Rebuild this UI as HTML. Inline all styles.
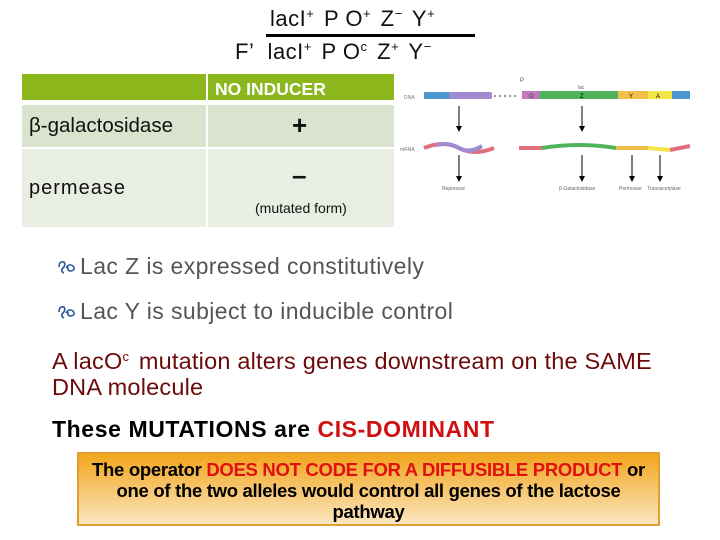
<!DOCTYPE html>
<html><head><meta charset="utf-8"><style>
body{margin:0;width:720px;height:540px;background:#fff;position:relative;overflow:hidden;font-family:"Liberation Sans",sans-serif}
.a{position:absolute;white-space:nowrap}
sup{font-size:13px;vertical-align:8px;margin-right:3px}
.g{color:#555;font-size:23px;letter-spacing:0.4px}
.bul{display:inline-block;width:26px;height:16px;vertical-align:-1px}
</style></head><body>
<div class="a" style="left:270px;top:6px;font-size:22px;color:#111;letter-spacing:0.5px">lacI<sup>+</sup> P O<sup>+</sup> Z<sup>−</sup> Y<sup>+</sup></div>
<div style="position:absolute;left:266px;top:34px;width:209px;height:3px;background:#000"></div>
<div class="a" style="left:235px;top:39px;font-size:22px;color:#111;letter-spacing:0.5px">F’&nbsp; lacI<sup>+</sup> P O<sup>c</sup> Z<sup>+</sup> Y<sup>−</sup></div>

<div style="position:absolute;left:22px;top:74px;width:184px;height:26px;background:#8bb71c"></div>
<div style="position:absolute;left:208px;top:74px;width:186px;height:26px;background:#8bb71c"></div>
<div class="a" style="left:215px;top:79px;font-size:17.5px;font-weight:bold;color:#fff">NO INDUCER</div>
<div style="position:absolute;left:22px;top:105px;width:184px;height:42px;background:#d9e3cd"></div>
<div style="position:absolute;left:208px;top:105px;width:186px;height:42px;background:#d9e3cd"></div>
<div style="position:absolute;left:22px;top:149px;width:184px;height:78px;background:#e9eee3"></div>
<div style="position:absolute;left:208px;top:149px;width:186px;height:78px;background:#e9eee3"></div>
<div class="a" style="left:29px;top:114px;font-size:20.5px;color:#111">β-galactosidase</div>
<div class="a" style="left:292px;top:110px;font-size:26px;font-weight:bold;color:#111">+</div>
<div class="a" style="left:29px;top:177px;font-size:20px;color:#111;letter-spacing:1px">permease</div>
<div class="a" style="left:292px;top:160px;font-size:26px;font-weight:bold;color:#111">–</div>
<div class="a" style="left:255px;top:200px;font-size:14px;color:#111">(mutated form)</div>

<svg style="position:absolute;left:394px;top:70px" width="300" height="130">
<text x="10" y="29" font-size="5" fill="#777" font-family="Liberation Sans">DNA</text>
<rect x="30" y="22" width="68" height="7" rx="2" fill="#a08bd0"/><rect x="30" y="22" width="25" height="7" fill="#4a9ad0"/>
<line x1="100" y1="26" x2="125" y2="26" stroke="#333" stroke-dasharray="2,3"/>
<rect x="128" y="21" width="18" height="8" fill="#c07ac0"/><rect x="146" y="21" width="78" height="8" fill="#4fb35a"/>
<rect x="224" y="21" width="30" height="8" fill="#f2c04a"/><rect x="254" y="21" width="24" height="8" fill="#f3e64a"/><rect x="278" y="21" width="18" height="8" fill="#4a9ad0"/>
<text x="126" y="12" font-size="6" fill="#555">P</text><text x="135" y="28" font-size="6" fill="#333">O</text><text x="184" y="19" font-size="5" fill="#555">lac</text><text x="186" y="28" font-size="6">Z</text><text x="235" y="28" font-size="6">Y</text><text x="262" y="28" font-size="6">A</text>
<g stroke="#000" stroke-width="1"><line x1="65" y1="36" x2="65" y2="58"/><line x1="188" y1="36" x2="188" y2="58"/><line x1="65" y1="85" x2="65" y2="108"/><line x1="188" y1="85" x2="188" y2="108"/><line x1="238" y1="85" x2="238" y2="108"/><line x1="266" y1="85" x2="266" y2="108"/></g>
<g fill="#000"><path d="M62 56 L68 56 L65 62z"/><path d="M185 56 L191 56 L188 62z"/><path d="M62 106 L68 106 L65 112z"/><path d="M185 106 L191 106 L188 112z"/><path d="M235 106 L241 106 L238 112z"/><path d="M263 106 L269 106 L266 112z"/></g>
<text x="6" y="81" font-size="5" fill="#777">mRNA</text>
<path d="M30 78 Q50 70 65 78 T100 78" stroke="#e07080" stroke-width="4" fill="none"/>
<path d="M42 75 Q55 72 65 78 T88 76" stroke="#a08bd0" stroke-width="4" fill="none"/>
<path d="M125 78 L148 78" stroke="#e07080" stroke-width="4"/><path d="M148 78 Q185 72 222 78" stroke="#4fb35a" stroke-width="4" fill="none"/>
<path d="M222 78 L254 78" stroke="#f2c04a" stroke-width="4"/><path d="M254 78 L276 80" stroke="#f3e64a" stroke-width="4"/><path d="M276 80 L296 76" stroke="#e07080" stroke-width="4"/>
<g font-size="5" fill="#666"><text x="48" y="120">Repressor</text><text x="165" y="120">β-Galactosidase</text><text x="225" y="120">Permease</text><text x="253" y="120">Transacetylase</text></g>
</svg>

<div class="a g" style="left:54px;top:253px"><svg class="bul" viewBox="0 0 22 16"><path d="M3 8 Q3 2 8 3 Q10 6 7 9 Q4 12 8 14 M10 9 Q13 4 17 7 Q20 11 15 12 Q11 12 12 8" stroke="#2a5a9a" stroke-width="1.6" fill="none"/></svg>Lac Z is expressed constitutively</div>
<div class="a g" style="left:54px;top:298px"><svg class="bul" viewBox="0 0 22 16"><path d="M3 8 Q3 2 8 3 Q10 6 7 9 Q4 12 8 14 M10 9 Q13 4 17 7 Q20 11 15 12 Q11 12 12 8" stroke="#2a5a9a" stroke-width="1.6" fill="none"/></svg>Lac Y is subject to inducible control</div>
<div class="a" style="left:52px;top:344px;font-size:23.5px;color:#6b0a0a;line-height:26px;letter-spacing:0.2px">A lacO<sup>c</sup> mutation alters genes downstream on the SAME<br>DNA molecule</div>
<div class="a" style="left:52px;top:416px;font-size:23px;font-weight:bold;color:#000;letter-spacing:0.6px">These MUTATIONS are <span style="color:#d01010">CIS-DOMINANT</span></div>
<div style="position:absolute;left:77px;top:452px;width:583px;height:74px;border:2px solid #e0a030;background:linear-gradient(#f2a51c,#fbe6c0);text-align:center;font-size:18.5px;font-weight:bold;line-height:21px;padding-top:5px;box-sizing:border-box;color:#000;letter-spacing:-0.3px;white-space:nowrap">The operator <span style="color:#e01010">DOES NOT CODE FOR A DIFFUSIBLE PRODUCT</span> or<br>one of the two alleles would control all genes of the lactose<br>pathway</div>
</body></html>
